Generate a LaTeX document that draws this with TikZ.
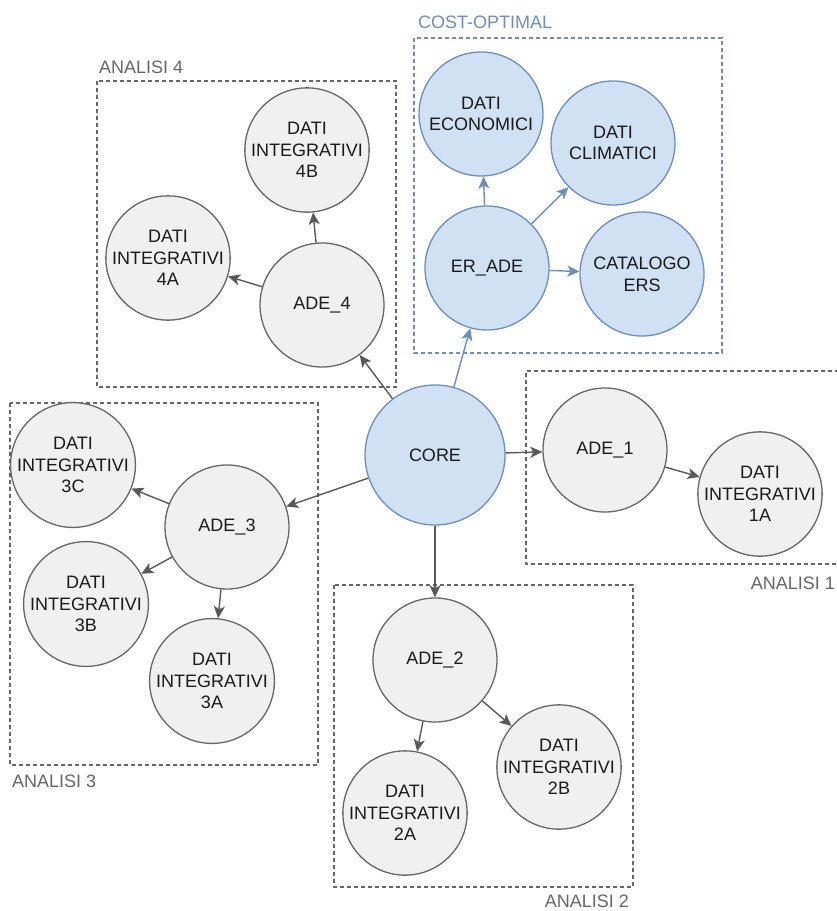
\documentclass[tikz,border=0pt]{standalone}
\usepackage{fontspec}
\setmainfont{Liberation Sans}
\usetikzlibrary{arrows.meta}
\definecolor{grayfill}{HTML}{F0F0F0}
\definecolor{graydraw}{HTML}{666666}
\definecolor{bluefill}{HTML}{CFE1F3}
\definecolor{bluedraw}{HTML}{6C8EBF}
\definecolor{arrowgray}{HTML}{595959}
\definecolor{inktext}{HTML}{1A1A1A}

\begin{document}
\begin{tikzpicture}[x=1pt,y=-1pt,
  font=\fontsize{18}{21.6}\selectfont,
  entity/.style={circle,draw=graydraw,fill=grayfill,line width=1.3pt,
    minimum size=124pt,inner sep=0pt,align=center,text=inktext},
  blueentity/.style={entity,draw=bluedraw,fill=bluefill},
  groupbox/.style={draw=graydraw,line width=1.1pt,dash pattern=on 4pt off 3pt},
  bluebox/.style={groupbox,draw=bluedraw},
  grouplabel/.style={text=graydraw,inner sep=0pt},
  bluelabel/.style={text=bluedraw,inner sep=0pt},
  link/.style={draw=arrowgray,line width=1.4pt,
    -{Stealth[length=12pt,width=11pt,inset=3pt]}},
  bluelink/.style={link,draw=bluedraw}]

\useasboundingbox (0,0) rectangle (836,911);

% group frames
\draw[groupbox] (97,81) rectangle (396,387);
\draw[bluebox] (414,38) rectangle (722,353);
\draw[groupbox] (850,564) -- (526,564) -- (526,371) -- (850,371);
\draw[groupbox] (10,403) rectangle (318,765);
\draw[groupbox] (334,585) rectangle (633,887);

% group titles
\node[grouplabel,anchor=west] (lab4) at (99,67) {ANALISI 4};
\node[bluelabel,anchor=west] (labco) at (418,22) {COST-OPTIMAL};
\node[grouplabel,anchor=east] (lab1) at (835,583) {ANALISI 1};
\node[grouplabel,anchor=west] (lab3) at (12,781) {ANALISI 3};
\node[grouplabel,anchor=east] (lab2) at (629,901) {ANALISI 2};

% central model
\node[blueentity,minimum size=140pt] (core) at (435,455) {CORE};

% cost-optimal extension
\node[blueentity] (erade) at (487,268) {ER\_ADE};
\node[blueentity] (econ) at (481,114) {DATI\\ECONOMICI};
\node[blueentity] (clim) at (613,143) {DATI\\CLIMATICI};
\node[blueentity] (cat) at (642,274) {CATALOGO\\ERS};

% analysis 4
\node[entity] (ade4) at (322,305) {ADE\_4};
\node[entity] (d4b) at (307,150) {DATI\\INTEGRATIVI\\4B};
\node[entity] (d4a) at (168,258) {DATI\\INTEGRATIVI\\4A};

% analysis 1
\node[entity] (ade1) at (605,450) {ADE\_1};
\node[entity] (d1a) at (760,494) {DATI\\INTEGRATIVI\\1A};

% analysis 3
\node[entity] (ade3) at (227,527) {ADE\_3};
\node[entity] (d3c) at (73,465) {DATI\\INTEGRATIVI\\3C};
\node[entity] (d3b) at (86,604) {DATI\\INTEGRATIVI\\3B};
\node[entity] (d3a) at (212,681) {DATI\\INTEGRATIVI\\3A};

% analysis 2
\node[entity] (ade2) at (435,660) {ADE\_2};
\node[entity] (d2a) at (405,813) {DATI\\INTEGRATIVI\\2A};
\node[entity] (d2b) at (559,767) {DATI\\INTEGRATIVI\\2B};

% connectors
\draw[bluelink] (core) -- (erade);
\draw[bluelink] (erade) -- (econ);
\draw[bluelink] (erade) -- (clim);
\draw[bluelink] (erade) -- (cat);

\draw[link] (core) -- (ade4);
\draw[link] (ade4) -- (d4b);
\draw[link] (ade4) -- (d4a);

\draw[link] (core) -- (ade1);
\draw[link] (ade1) -- (d1a);

\draw[link] (core) -- (ade3);
\draw[link] (ade3) -- (d3c);
\draw[link] (ade3) -- (d3b);
\draw[link] (ade3) -- (d3a);

\draw[link] (core) -- (ade2);
\draw[link] (ade2) -- (d2a);
\draw[link] (ade2) -- (d2b);
\end{tikzpicture}
\end{document}
